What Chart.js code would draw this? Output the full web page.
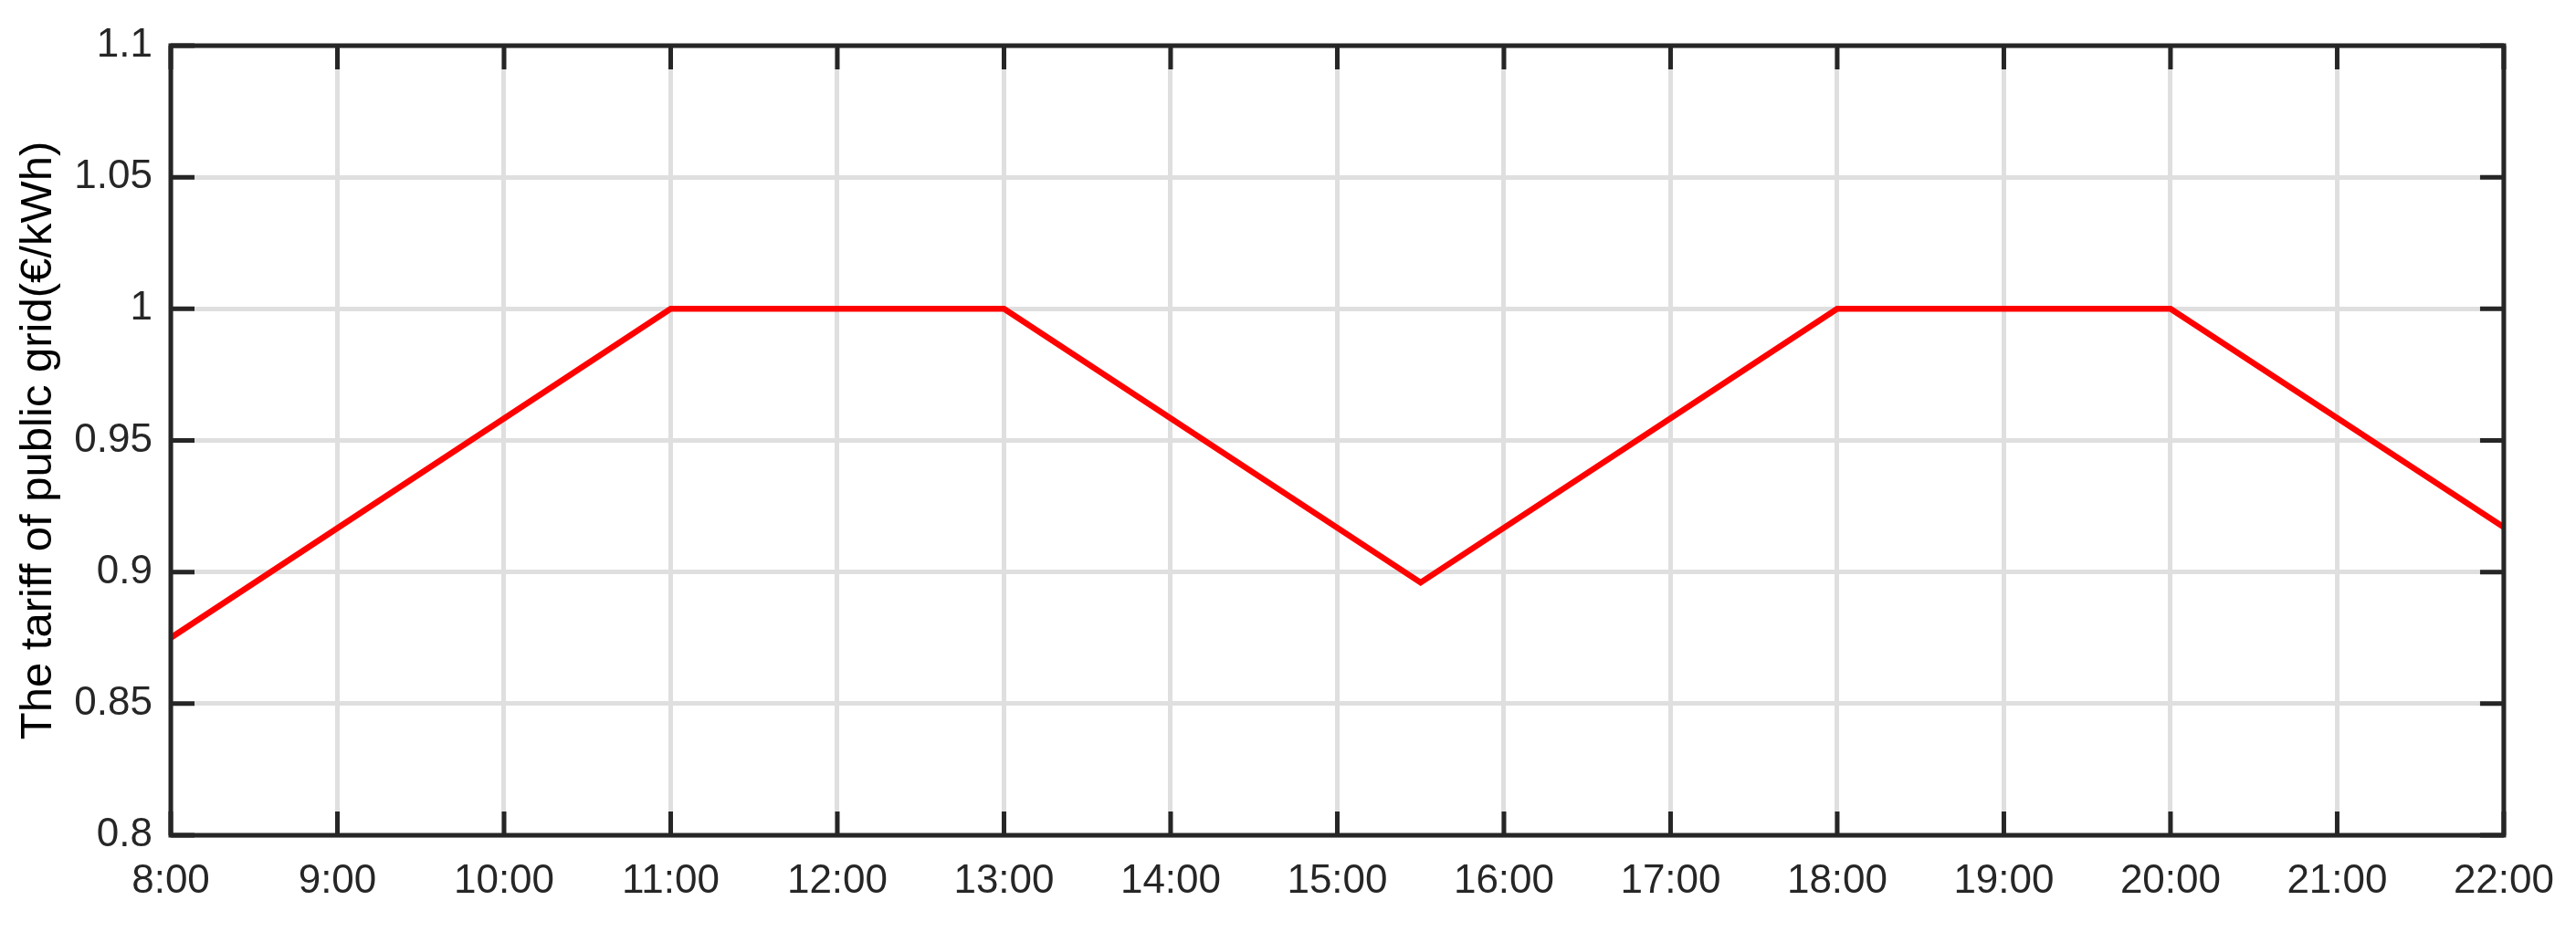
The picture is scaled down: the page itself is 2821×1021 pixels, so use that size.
<!DOCTYPE html>
<html>
<head>
<meta charset="utf-8">
<script src="https://cdn.jsdelivr.net/npm/chart.js@4.4.0/dist/chart.umd.min.js"></script>
<style>
  html, body { margin: 0; padding: 0; background: #ffffff; }
  #wrap { width: 2821px; height: 1021px; }
</style>
</head>
<body>
<div id="wrap"><canvas id="c" width="2821" height="1021"></canvas></div>
<script>
// ---- data ----
const hours = [8, 11, 13, 15.5, 18, 20, 22];
const tariff = [0.875, 1.0, 1.0, 0.896, 1.0, 1.0, 0.917];
const xTickValues = [8, 9, 10, 11, 12, 13, 14, 15, 16, 17, 18, 19, 20, 21, 22];
const xTickLabels = ['8:00', '9:00', '10:00', '11:00', '12:00', '13:00', '14:00', '15:00', '16:00', '17:00', '18:00', '19:00', '20:00', '21:00', '22:00'];
const yTickValues = [0.8, 0.85, 0.9, 0.95, 1.0, 1.05, 1.1];
const yTickLabels = ['0.8', '0.85', '0.9', '0.95', '1', '1.05', '1.1'];
const yTitle = 'The tariff of public grid(€/kWh)';

const AXIS = '#262626';
const FONT = "'Liberation Sans', Arial, sans-serif";

const boxPlugin = {
  id: 'boxPlugin',
  afterDatasetsDraw(chart) {
    const ctx = chart.ctx;
    const a = chart.chartArea;
    const xs = chart.scales.x, ys = chart.scales.y;
    const tl = 26;
    ctx.save();
    ctx.strokeStyle = AXIS;
    ctx.lineWidth = 5;
    ctx.lineCap = 'butt';
    ctx.beginPath();
    xTickValues.forEach(v => {
      const px = xs.getPixelForValue(v);
      ctx.moveTo(px, a.bottom); ctx.lineTo(px, a.bottom - tl);
      ctx.moveTo(px, a.top); ctx.lineTo(px, a.top + tl);
    });
    yTickValues.forEach(v => {
      const py = ys.getPixelForValue(v);
      ctx.moveTo(a.left, py); ctx.lineTo(a.left + tl, py);
      ctx.moveTo(a.right, py); ctx.lineTo(a.right - tl, py);
    });
    ctx.stroke();
    ctx.lineJoin = 'miter';
    ctx.strokeRect(a.left, a.top, a.right - a.left, a.bottom - a.top);
    ctx.restore();
  }
};

new Chart(document.getElementById('c'), {
  type: 'line',
  data: {
    datasets: [{
      data: hours.map((h, i) => ({ x: h, y: tariff[i] })),
      borderColor: '#ff0000',
      borderWidth: 6.5,
      pointRadius: 0,
      tension: 0,
      fill: false
    }]
  },
  options: {
    responsive: false,
    animation: false,
    devicePixelRatio: 1,
    layout: { padding: { top: 50, right: 78, left: 0, bottom: 0 } },
    plugins: { legend: { display: false }, tooltip: { enabled: false } },
    scales: {
      x: {
        type: 'linear',
        min: 8, max: 22,
        afterBuildTicks: s => { s.ticks = xTickValues.map(v => ({ value: v })); },
        afterFit: s => { s.height = 106; },
        grid: { color: '#dfdfdf', lineWidth: 5, drawTicks: false },
        border: { display: false },
        ticks: {
          color: AXIS,
          font: { family: FONT, size: 44 },
          padding: 24,
          maxRotation: 0,
          autoSkip: false,
          callback: (v) => xTickLabels[xTickValues.indexOf(v)]
        }
      },
      y: {
        type: 'linear',
        min: 0.8, max: 1.1,
        afterBuildTicks: s => { s.ticks = yTickValues.map(v => ({ value: v })); },
        afterFit: s => { s.width = 187; },
        grid: { color: '#dfdfdf', lineWidth: 5, drawTicks: false },
        border: { display: false },
        title: {
          display: true,
          text: yTitle,
          color: '#000000',
          font: { family: FONT, size: 49 },
          padding: { top: 13, bottom: 0 }
        },
        ticks: {
          color: AXIS,
          font: { family: FONT, size: 44 },
          padding: 20,
          autoSkip: false,
          callback: (v) => {
            const i = yTickValues.findIndex(t => Math.abs(t - v) < 1e-9);
            return i >= 0 ? yTickLabels[i] : '';
          }
        }
      }
    }
  },
  plugins: [boxPlugin]
});
</script>
</body>
</html>
